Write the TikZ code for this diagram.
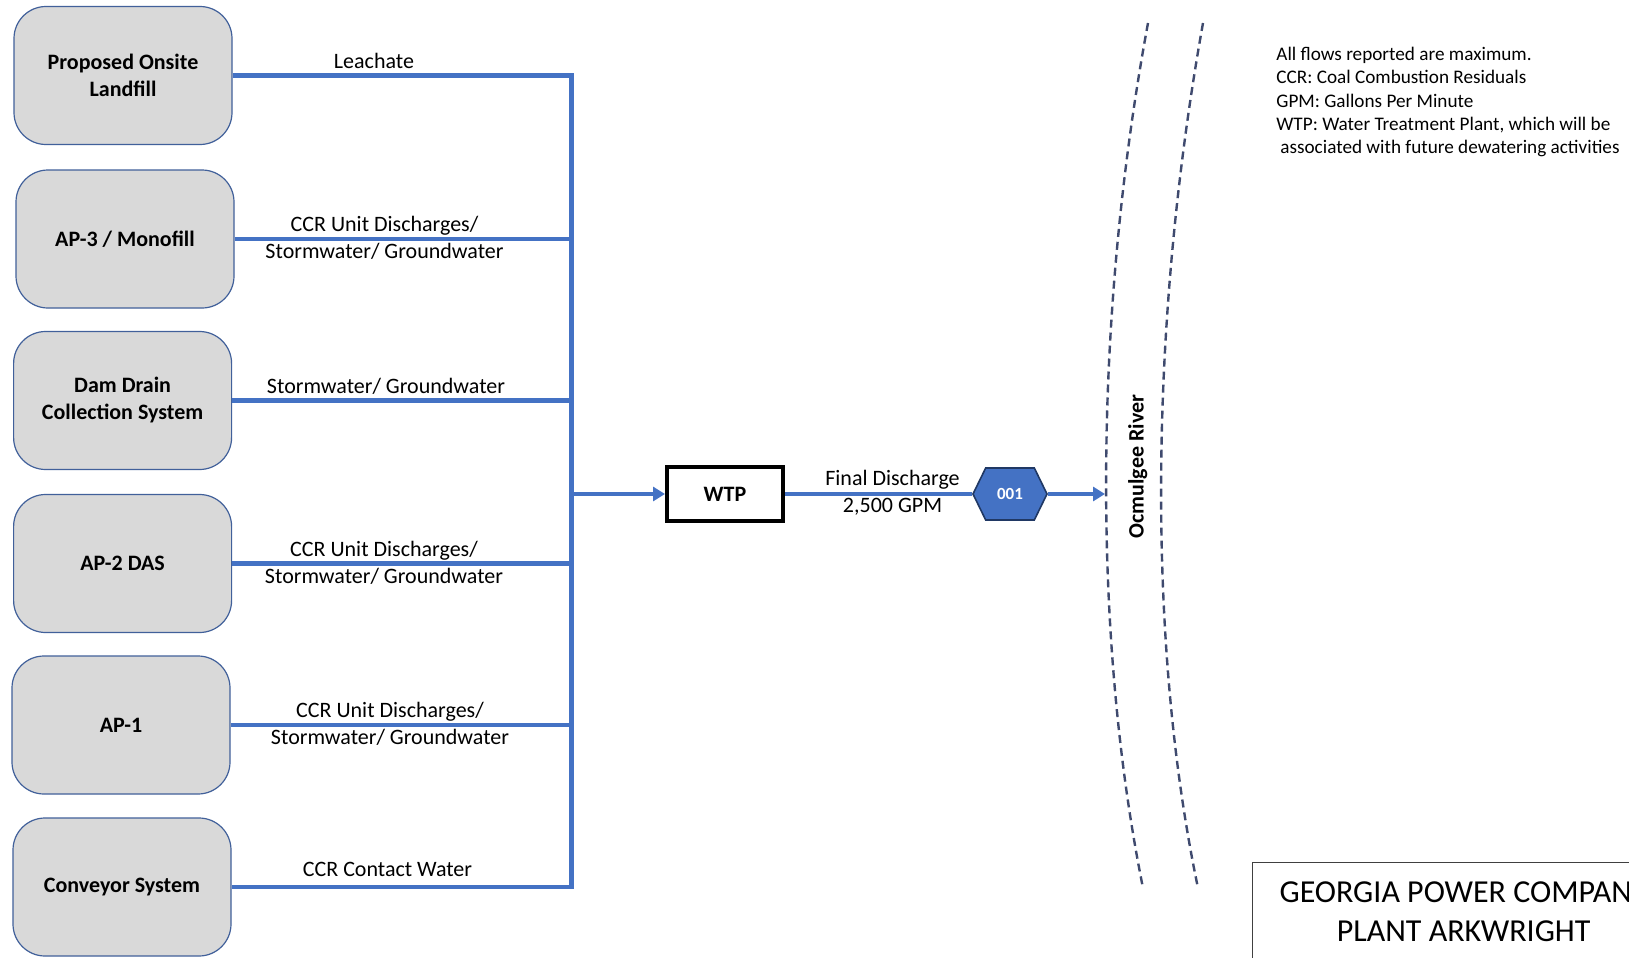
\documentclass[tikz,border=0pt]{standalone}
\usepackage{fontspec}
\setmainfont{Carlito}
\usepackage{xcolor}
\usepackage{tikz}
\usetikzlibrary{shapes,arrows,positioning,calc,arrows.meta}

\definecolor{flowblue}{HTML}{4472C4}
\definecolor{boxgray}{HTML}{D9D9D9}
\definecolor{boxedge}{HTML}{41609A}
\definecolor{hexedge}{HTML}{203864}
\definecolor{riverdash}{HTML}{3F4A6E}

\begin{document}
\begin{tikzpicture}[x=0.5pt,y=-0.5pt,
    source/.style={draw=boxedge, line width=0.6pt, fill=boxgray, rounded corners=16pt,
        minimum width=109pt, minimum height=69pt, align=center,
        font=\fontsize{11}{13.5}\selectfont\bfseries},
    flow/.style={draw=flowblue, line width=2.1pt},
    flowtip/.style={flow, -{Triangle[length=6pt,width=7pt]}},
    flowlabel/.style={align=center, inner sep=0pt, font=\fontsize{11}{13.5}\selectfont},
    river/.style={draw=riverdash, line width=1.2pt, dash pattern=on 4pt off 2.5pt}]
    \useasboundingbox (0,0) rectangle (1629,958);
    \clip (0,0) rectangle (1629,958);

    % sources
    \node[source] (landfill) at (123,75.5) {Proposed Onsite\\Landfill};
    \node[source] (apthree) at (125,239) {AP-3 / Monofill};
    \node[source] (damdrain) at (122.6,400.5) {Dam Drain\\Collection System};
    \node[source] (aptwo) at (122.6,563.5) {AP-2 DAS};
    \node[source] (apone) at (121,725) {AP-1};
    \node[source] (conveyor) at (122,887) {Conveyor System};

    % collector line
    \coordinate (bus) at (571.5,0);
    \draw[flow] (landfill.east) -| (bus |- conveyor.east) -- (conveyor.east);
    \foreach \src in {apthree,damdrain,aptwo,apone}
        \draw[flow] (\src.east) -- (bus |- \src.east);

    \node[flowlabel] (lbl-leachate) at (374,60.5) {Leachate};
    \node[flowlabel] (lbl-apthree) at (384.5,238) {CCR Unit Discharges/\\Stormwater/ Groundwater};
    \node[flowlabel] (lbl-damdrain) at (386,386.5) {Stormwater/ Groundwater};
    \node[flowlabel] (lbl-aptwo) at (384,563) {CCR Unit Discharges/\\Stormwater/ Groundwater};
    \node[flowlabel] (lbl-apone) at (390,724) {CCR Unit Discharges/\\Stormwater/ Groundwater};
    \node[flowlabel] (lbl-conveyor) at (387.5,869.6) {CCR Contact Water};

    % treatment and outfall
    \node[draw, line width=2pt, minimum width=58pt, minimum height=27pt,
        font=\fontsize{11}{13.5}\selectfont\bfseries] (wtp) at (725,494) {WTP};
    \draw[flowtip] (bus |- wtp.west) -- (wtp.west);

    \node[signal, signal to=east and west, signal pointer angle=128,
        draw=hexedge, line width=0.8pt, fill=flowblue, text=white,
        minimum width=37pt, minimum height=26pt, inner sep=1pt,
        font=\fontsize{8.5}{10}\selectfont\bfseries] (outfall) at (1010,494) {001};
    \coordinate (inlet) at (1105,494);
    \draw[flow] (wtp.east) -- (outfall.west);
    \draw[flowtip] (outfall.east) -- (inlet);
    \node[flowlabel] (lbl-final) at (892.5,492.5) {Final Discharge\\2,500 GPM};

    % river
    \draw[river] (1148,23) .. controls (1093,320) and (1093,640) .. (1143,888);
    \draw[river] (1203,23) .. controls (1148,330) and (1148,650) .. (1198,888);
    \node[rotate=90, font=\fontsize{11}{13.5}\selectfont\bfseries] (ocmulgee) at (1137.7,466.5) {Ocmulgee River};

    % notes and title
    \node[anchor=north west, align=left, inner sep=0pt,
        font=\fontsize{9.6}{11.6}\selectfont] (notes) at (1276,47)
        {All flows reported are maximum.\\CCR: Coal Combustion Residuals\\GPM: Gallons Per Minute\\
         WTP: Water Treatment Plant, which will be\\\hspace{2pt}associated with future dewatering activities};
    \node[anchor=north west, draw=black!75, line width=0.6pt, minimum width=211pt,
        inner xsep=0pt, inner ysep=9.5pt, align=center,
        font=\fontsize{16}{19.5}\selectfont] (title) at (1252,862)
        {GEORGIA POWER COMPANY\\PLANT ARKWRIGHT\\[60pt]};
\end{tikzpicture}
\end{document}
